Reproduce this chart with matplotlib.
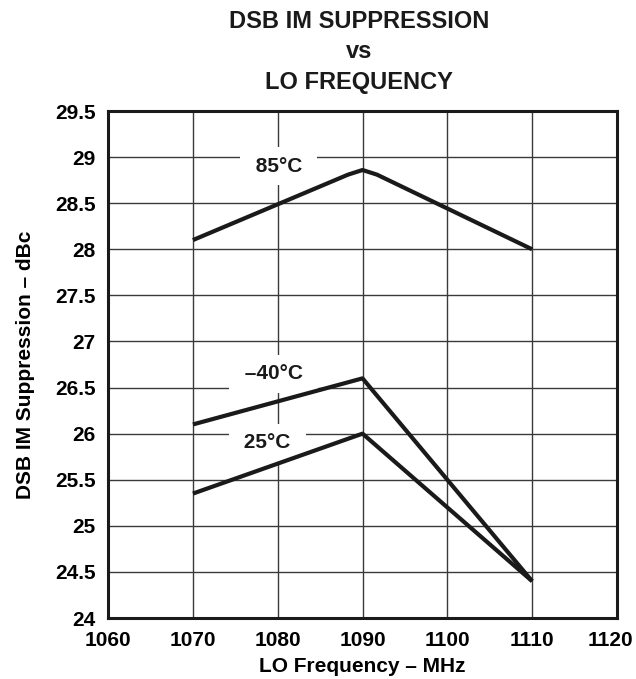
import matplotlib
matplotlib.use('Agg')
import matplotlib.pyplot as plt
import matplotlib.transforms as mtransforms

plt.rcParams['font.family'] = ['Liberation Sans', 'DejaVu Sans']
plt.rcParams['font.weight'] = 'bold'

# LO frequency (MHz) and DSB IM suppression (dBc) per temperature
freq_85 = [1070, 1088.3, 1090, 1091.7, 1110]
supp_85 = [28.1, 28.81, 28.86, 28.81, 28.0]
freq_m40 = [1070, 1090, 1110]
supp_m40 = [26.1, 26.6, 24.4]
freq_25 = [1070, 1090, 1110]
supp_25 = [25.35, 26.0, 24.4]

x_ticks = [1060, 1070, 1080, 1090, 1100, 1110, 1120]
y_ticks = [24, 24.5, 25, 25.5, 26, 26.5, 27, 27.5, 28, 28.5, 29, 29.5]

curve_labels = [
    (' 85\u00b0C ', 1080.1, 28.9),
    (' \u201340\u00b0C ', 1079.5, 26.65),
    (' 25\u00b0C ', 1078.8, 25.9),
]

title_lines = ['DSB IM SUPPRESSION', 'vs', 'LO FREQUENCY']

FS = 15
W, H = 636, 679

fig = plt.figure(figsize=(W / 100, H / 100), dpi=100)
ax = fig.add_axes([0.170, 0.0898, 0.800, 0.7467])

for fx, sy in [(freq_85, supp_85), (freq_m40, supp_m40), (freq_25, supp_25)]:
    ax.plot(fx, sy, color='#1a1a1a', lw=3.0, solid_joinstyle='round',
            solid_capstyle='butt', zorder=4)

ax.set_xlim(1060, 1120)
ax.set_ylim(24, 29.5)
ax.set_xticks(x_ticks)
ax.set_yticks(y_ticks)
ax.set_xticklabels([str(v) for v in x_ticks])
ax.set_yticklabels([f'{v:g}' for v in y_ticks])
ax.tick_params(length=0, labelsize=FS, pad=9)
ax.grid(True, color='#3a3a3a', lw=1.0, zorder=1)
ax.set_axisbelow(True)
for s in ax.spines.values():
    s.set_linewidth(2.2)
    s.set_color('#1a1a1a')
    s.set_zorder(5)

# keep the last x label inside the figure
last = ax.get_xticklabels()[-1]
last.set_transform(last.get_transform() +
                   mtransforms.ScaledTranslation(-6 / 100, 0, fig.dpi_scale_trans))

for txt, x, y in curve_labels:
    ax.text(x, y, txt, ha='center', va='center', fontsize=FS,
            fontweight='bold', color='#1a1a1a', zorder=3,
            bbox=dict(boxstyle='square,pad=0.45', fc='white', ec='none'))

ax.set_xlabel('LO Frequency \u2013 MHz', fontsize=FS, fontweight='bold')
ax.set_ylabel('DSB IM Suppression \u2013 dBc', fontsize=FS, fontweight='bold')
ax.xaxis.set_label_coords(0.5, -0.095)
ax.yaxis.set_label_coords(-0.163, 0.5)
ax.xaxis.label.set_va('center')
ax.yaxis.label.set_va('center')

# three-line heading, placed by baseline
for t, base in zip(title_lines, [28.5, 58.5, 88.5]):
    fig.text(0.564, 1 - base / H, t, ha='center', va='baseline',
             fontsize=17, fontweight='bold', color='#1a1a1a')

fig.savefig('out.png', dpi=100)
